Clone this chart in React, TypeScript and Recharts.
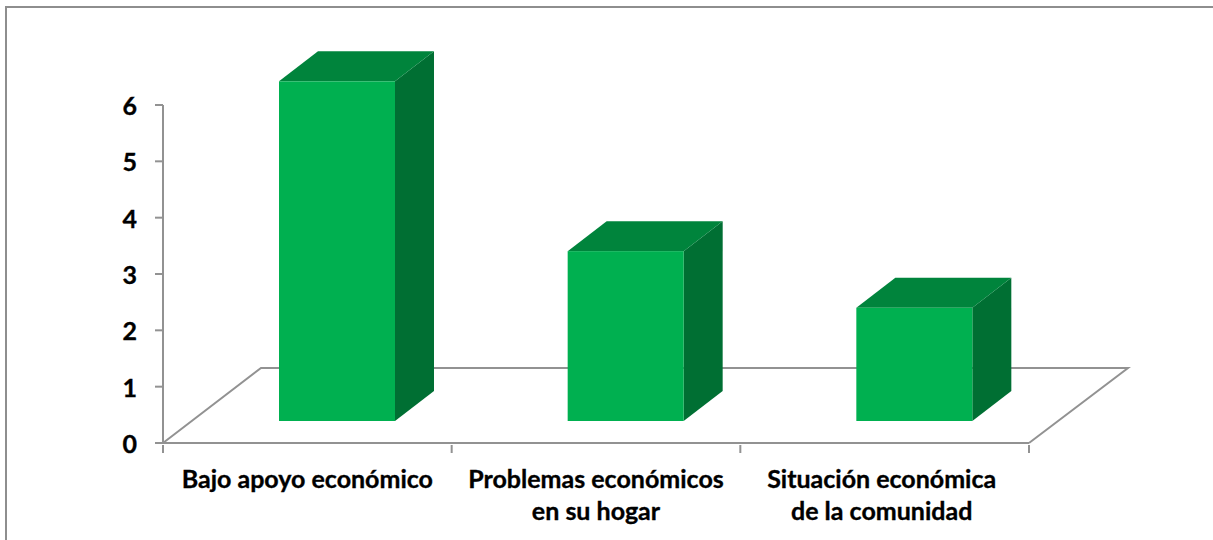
import { BarChart, Bar, XAxis, YAxis, Customized } from "recharts";

const categories = [
  "Bajo apoyo económico",
  "Problemas económicos\nen su hogar",
  "Situación económica\nde la comunidad",
];
const values = [6, 3, 2];
const yTicks = [0, 1, 2, 3, 4, 5, 6];

const data = categories.map((name, i) => ({ name, value: values[i] }));

const AXIS_GREY = "#929292";
const FONT = "Lato, Carlito, sans-serif";
const BAND = 866 / categories.length;

// bars sit on the front edge of the floor, not on the axis line
const SHIFT_X = 30;
const SHIFT_Y = -22;
const DEPTH_X = 39;
const DEPTH_Y = -30;
const FRONT_SCALE = 1.005;

function Bar3D(props: any) {
  const { x, y, width, height } = props;
  const bottom = y + height + SHIFT_Y;
  const top = bottom - height * FRONT_SCALE;
  const left = x + SHIFT_X;
  const right = left + width;
  return (
    <g>
      <polygon
        points={`${right},${top} ${right + DEPTH_X},${top + DEPTH_Y} ${right + DEPTH_X},${bottom + DEPTH_Y} ${right},${bottom}`}
        fill="#006f33"
      />
      <polygon
        points={`${left},${top} ${left + DEPTH_X},${top + DEPTH_Y} ${right + DEPTH_X},${top + DEPTH_Y} ${right},${top}`}
        fill="#00843c"
      />
      <rect x={left} y={top} width={width} height={bottom - top} fill="#00b050" />
    </g>
  );
}

// the back and side edges of the 3D floor
function Floor() {
  return (
    <polyline
      points="163,443 261,368 1128,368 1029,443"
      fill="none"
      stroke={AXIS_GREY}
      strokeWidth={2}
    />
  );
}

// ticks fall on the band edges here, so the tick marks are drawn with the labels
function CategoryTick(props: any) {
  const { x, y, payload, index } = props;
  const lines = String(payload.value).split("\n");
  const axisY = y - 8;
  const edges = index === categories.length - 1 ? [x - BAND / 2, x + BAND / 2] : [x - BAND / 2];
  const labelX = index === 2 ? x - 3 : x;
  return (
    <g>
      {edges.map((edge) => (
        <line key={edge} x1={edge} x2={edge} y1={axisY} y2={axisY + 8} stroke={AXIS_GREY} strokeWidth={2} />
      ))}
      <text
        x={labelX}
        y={y}
        textAnchor="middle"
        fill="#000"
        stroke="#000"
        strokeWidth={0.35}
        fontFamily={FONT}
        fontSize={25}
        fontWeight={700}
      >
        {lines.map((line, i) => (
          <tspan key={i} x={labelX} dy={i === 0 ? 35 : 32}>
            {line}
          </tspan>
        ))}
      </text>
    </g>
  );
}

export default function App() {
  return (
    <div
      style={{
        position: "fixed",
        left: 0,
        top: 0,
        width: 1213,
        height: 540,
        background: "#fff",
        overflow: "hidden",
      }}
    >
      <div
        style={{
          position: "absolute",
          left: 5,
          top: 6,
          width: 1213,
          height: 540,
          borderLeft: "2px solid #8e8e8e",
          borderTop: "2px solid #8e8e8e",
        }}
      />
      <div style={{ position: "absolute", left: 0, top: 0 }}>
        <BarChart
          width={1213}
          height={540}
          data={data}
          margin={{ top: 105, right: 184, bottom: 0, left: 0 }}
          barSize={116}
        >
          <Customized component={Floor} />
          <XAxis
            dataKey="name"
            height={97}
            interval={0}
            axisLine={{ stroke: AXIS_GREY, strokeWidth: 2 }}
            tickSize={8}
            tickLine={false}
            tick={<CategoryTick />}
          />
          <YAxis
            width={163}
            domain={[0, 6]}
            ticks={yTicks}
            interval={0}
            axisLine={{ stroke: AXIS_GREY, strokeWidth: 2 }}
            tickSize={8}
            tickMargin={18}
            tickLine={{ stroke: AXIS_GREY, strokeWidth: 2 }}
            tick={{ fill: "#000", stroke: "#000", strokeWidth: 0.35, dy: 1, fontFamily: FONT, fontSize: 25, fontWeight: 700 }}
          />
          <Bar dataKey="value" shape={<Bar3D />} isAnimationActive={false} />
        </BarChart>
      </div>
    </div>
  );
}
